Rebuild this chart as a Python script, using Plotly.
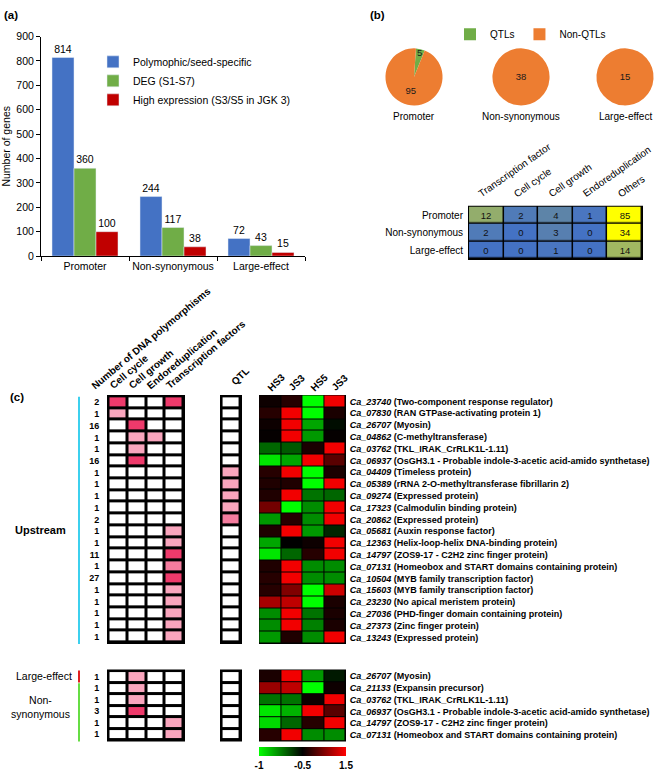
import plotly.graph_objects as go

W, H = 660, 777
FONT = "Liberation Sans, Arial, sans-serif"


def px(x):
    return x / W


def py(y):
    return 1 - y / H


# ---------------- (a) data ----------------
categories = ["Promoter", "Non-synonymous", "Large-effect"]
polymorphic = [814, 244, 72]
deg = [360, 117, 43]
high_expr = [100, 38, 15]
series_names = ["Polymophic/seed-specific", "DEG (S1-S7)", "High expression (S3/S5 in JGK 3)"]
bar_colors = ["#4472c4", "#70ad47", "#c00000"]

# ---------------- (b) data ----------------
pie_groups = ["Promoter", "Non-synonymous", "Large-effect"]
pie_labels = ["QTLs", "Non-QTLs"]
qtl_counts = [5, 0, 0]
nonqtl_counts = [95, 38, 15]

table_rows = ["Promoter", "Non-synonymous", "Large-effect"]
table_cols = ["Transcription factor", "Cell cycle", "Cell growth", "Endoreduplication", "Others"]
tf_counts = [12, 2, 0]
cellcycle_counts = [2, 0, 0]
cellgrowth_counts = [4, 3, 1]
endo_counts = [1, 0, 0]
others_counts = [85, 34, 14]

# ---------------- (c) data ----------------
mat_cols = ["Cell cycle", "Cell growth", "Endoreduplication", "Transcription factors"]
expr_cols = ["HS3", "JS3", "HS5", "JS3"]

up_ids = ["Ca_23740", "Ca_07830", "Ca_26707", "Ca_04862", "Ca_03762", "Ca_06937", "Ca_04409",
          "Ca_05389", "Ca_09274", "Ca_17323", "Ca_20862", "Ca_05681", "Ca_12363", "Ca_14797",
          "Ca_07131", "Ca_10504", "Ca_15603", "Ca_23230", "Ca_27036", "Ca_27373", "Ca_13243"]
up_desc = ["Two-component response regulator", "RAN GTPase-activating protein 1", "Myosin",
           "C-methyltransferase", "TKL_IRAK_CrRLK1L-1.11",
           "OsGH3.1 - Probable indole-3-acetic acid-amido synthetase", "Timeless protein",
           "rRNA 2-O-methyltransferase fibrillarin 2", "Expressed protein",
           "Calmodulin binding protein", "Expressed protein", "Auxin response factor",
           "Helix-loop-helix DNA-binding protein", "ZOS9-17 - C2H2 zinc finger protein",
           "Homeobox and START domains containing protein", "MYB family transcription factor",
           "MYB family transcription factor", "No apical meristem protein",
           "PHD-finger domain containing protein", "Zinc finger protein", "Expressed protein"]
up_polymorphisms = [2, 1, 16, 1, 1, 16, 1, 1, 1, 1, 2, 1, 1, 11, 1, 27, 1, 1, 1, 1, 1]
# pink intensity level per category (0 none, 1 light, 2 medium, 3 strong)
up_cell_cycle = [3, 1, 0, 0, 0, 0, 0, 0, 0, 0, 0, 0, 0, 0, 0, 0, 0, 0, 0, 0, 0]
up_cell_growth = [0, 0, 3, 1, 1, 3, 0, 0, 0, 0, 0, 0, 0, 0, 0, 0, 0, 0, 0, 0, 0]
up_endored = [0, 0, 0, 1, 0, 0, 0, 0, 0, 0, 0, 0, 0, 0, 0, 0, 0, 0, 0, 0, 0]
up_tf = [3, 0, 0, 0, 0, 0, 0, 0, 0, 0, 0, 1, 1, 3, 2, 3, 1, 1, 1, 1, 1]
up_qtl = [0, 0, 0, 0, 0, 0, 1, 1, 1, 1, 2, 0, 0, 0, 0, 0, 0, 0, 0, 0, 0]
# scaled expression (green -1 .. black 0 .. red 1): HS3, JS3, HS5, JS3
up_hs3 = [0.05, 0.15, 0.05, 0.02, -0.4, -0.9, 0.15, 0.12, 0.12, 0.45, -0.6,
          0.12, -0.65, -0.9, 0.12, 0.15, 0.15, 0.65, -0.55, -0.55, -0.6]
up_js3a = [0.15, 0.95, 0.95, 0.95, -0.35, -0.65, 0.95, 0.12, 0.95, -1.0, 0.15,
           0.95, 0.0, -0.4, 0.95, 0.95, 0.5, 0.75, 0.95, 0.95, 0.12]
up_hs5 = [-1.0, -1.0, -0.65, -0.6, 0.1, 0.95, -1.0, -1.0, -0.45, -0.55, -0.55,
          -0.6, 0.05, 0.15, -0.55, -0.55, -1.0, -1.0, -0.45, -0.5, -0.55]
up_js3b = [0.95, 0.1, -0.05, 0.02, 0.95, 0.35, 0.1, 0.95, -0.4, 0.95, 0.95,
           -0.15, 0.95, 0.95, -0.55, -0.55, 0.8, 0.1, 0.1, 0.1, 0.95]

low_ids = ["Ca_26707", "Ca_21133", "Ca_03762", "Ca_06937", "Ca_14797", "Ca_07131"]
low_desc = ["Myosin", "Expansin precursor", "TKL_IRAK_CrRLK1L-1.11",
            "OsGH3.1 - Probable indole-3-acetic acid-amido synthetase",
            "ZOS9-17 - C2H2 zinc finger protein", "Homeobox and START domains containing protein"]
low_polymorphisms = [1, 1, 1, 3, 1, 1]
low_cell_cycle = [0, 0, 0, 0, 0, 0]
low_cell_growth = [1, 1, 1, 3, 0, 0]
low_endored = [0, 0, 0, 0, 0, 0]
low_tf = [0, 0, 0, 0, 1, 1]
low_qtl = [0, 0, 0, 0, 0, 0]
low_hs3 = [0.1, 0.6, -0.45, -0.9, -0.85, 0.15]
low_js3a = [0.95, 0.75, -0.45, -0.7, -0.4, 0.95]
low_hs5 = [-0.6, -1.0, 0.05, 0.95, 0.15, -0.55]
low_js3b = [-0.1, 0.05, 0.95, 0.35, 0.95, -0.55]

cbar_ticks = ["-1", "-0.5", "1.5"]

# ---------------- figure ----------------
fig = go.Figure()

# (a) bars
for name, vals, col in zip(series_names, [polymorphic, deg, high_expr], bar_colors):
    fig.add_trace(go.Bar(x=categories, y=vals, name=name, marker_color=col,
                         text=vals, textposition="outside", cliponaxis=False,
                         textfont=dict(size=10.5, color="black"),
                         xaxis="x", yaxis="y", legend="legend"))

# (b) pies
pie_centers = [414, 521, 625]
for i, g in enumerate(pie_groups):
    vals = [qtl_counts[i], nonqtl_counts[i]]
    cx = pie_centers[i]
    fig.add_trace(go.Pie(labels=pie_labels, values=vals, sort=False,
                         direction="counterclockwise", rotation=4,
                         marker=dict(colors=["#70ad47", "#ed7d31"]),
                         text=[str(v) if v else "" for v in vals], textinfo="text",
                         textposition="inside", insidetextorientation="horizontal",
                         textfont=dict(size=9.5, color="#1a1a1a"),
                         domain=dict(x=[px(cx - 29), px(cx + 29)], y=[py(101), py(43)]),
                         showlegend=(i == 0), legend="legend2", hoverinfo="skip"))

# (b) table heatmap
table_z = [[tf_counts[r], cellcycle_counts[r], cellgrowth_counts[r], endo_counts[r], others_counts[r]]
           for r in range(len(table_rows))]
table_scale = [[0, "#4472c4"], [1 / 85, "#4a76c0"], [4 / 85, "#5d84a8"], [12 / 85, "#93ad6c"],
               [20 / 85, "#c9d83e"], [30 / 85, "#ffff00"], [1, "#ffff00"]]
fig.add_trace(go.Heatmap(z=table_z, x=list(range(len(table_cols))), y=list(range(len(table_rows))),
                         text=table_z, texttemplate="%{text}",
                         textfont=dict(size=9.5, color="#111111"),
                         colorscale=table_scale, zmin=0, zmax=85, showscale=False,
                         xgap=1.5, ygap=1.5, xaxis="x2", yaxis="y2", hoverinfo="skip"))

pink_scale = [[0, "#ffffff"], [0.333, "#f9a5bd"], [0.667, "#f47c9e"], [1, "#ee3a6b"]]
expr_scale = [[0, "#00ff00"], [0.5, "#000000"], [1, "#ff0000"]]


def add_block(ax_m, ax_q, ax_e, cc, cg, en, tf, qtl, e1, e2, e3, e4, show_cb):
    n = len(cc)
    zm = [[cc[r], cg[r], en[r], tf[r]] for r in range(n)]
    fig.add_trace(go.Heatmap(z=zm, x=list(range(4)), y=list(range(n)), colorscale=pink_scale,
                             zmin=0, zmax=3, showscale=False, xgap=3, ygap=3,
                             xaxis="x" + ax_m, yaxis="y" + ax_m, hoverinfo="skip"))
    zq = [[qtl[r]] for r in range(n)]
    fig.add_trace(go.Heatmap(z=zq, x=[0], y=list(range(n)), colorscale=pink_scale,
                             zmin=0, zmax=3, showscale=False, xgap=3, ygap=3,
                             xaxis="x" + ax_q, yaxis="y" + ax_q, hoverinfo="skip"))
    ze = [[e1[r], e2[r], e3[r], e4[r]] for r in range(n)]
    cb = None
    if show_cb:
        cb = dict(orientation="h", x=px(302.5), xanchor="center", y=py(753), yanchor="top",
                  len=87, lenmode="pixels", thickness=9, thicknessmode="pixels",
                  tickvals=[-1, 0, 1], ticktext=cbar_ticks, ticks="",
                  tickfont=dict(size=10, weight="bold"), outlinewidth=0, xpad=0, ypad=0)
    fig.add_trace(go.Heatmap(z=ze, x=list(range(4)), y=list(range(n)), colorscale=expr_scale,
                             zmin=-1, zmax=1, showscale=show_cb, colorbar=cb, xgap=1, ygap=1,
                             xaxis="x" + ax_e, yaxis="y" + ax_e, hoverinfo="skip"))


add_block("3", "4", "5", up_cell_cycle, up_cell_growth, up_endored, up_tf, up_qtl,
          up_hs3, up_js3a, up_hs5, up_js3b, False)
add_block("6", "7", "8", low_cell_cycle, low_cell_growth, low_endored, low_tf, low_qtl,
          low_hs3, low_js3a, low_hs5, low_js3b, True)


def hid(**kw):
    d = dict(showgrid=False, zeroline=False, showticklabels=False, ticks="", showline=False,
             fixedrange=True)
    d.update(kw)
    return d


n_up, n_low = len(up_ids), len(low_ids)
up_y = [py(648), py(395)]
low_y = [py(747), py(674)]
gene_up = ["<i>%s</i> (%s)" % (a, b) for a, b in zip(up_ids, up_desc)]
gene_low = ["<i>%s</i> (%s)" % (a, b) for a, b in zip(low_ids, low_desc)]
gene_font = dict(size=9.0, weight="bold", color="black")
cnt_font = dict(size=9, weight="bold", color="black")

layout = dict(
    width=W, height=H, margin=dict(l=0, r=0, t=0, b=0),
    paper_bgcolor="white", plot_bgcolor="white",
    font=dict(family=FONT, color="black", size=10),
    bargap=0.25, bargroupgap=0,
    uniformtext=dict(minsize=9.5, mode="show"),
    xaxis=dict(domain=[px(41), px(305)], showline=True, linecolor="black", linewidth=1,
               ticks="outside", tickson="boundaries", ticklen=4, tickcolor="black",
               tickangle=0, tickfont=dict(size=10.5), showgrid=False, fixedrange=True),
    yaxis=dict(domain=[py(254), py(31)], range=[0, 900], dtick=100, showline=True,
               linecolor="black", linewidth=1, ticks="outside", ticklen=4, tickcolor="black",
               tickfont=dict(size=10.5), showgrid=False, zeroline=False, fixedrange=True,
               title=dict(text="Number of genes", font=dict(size=10.5), standoff=4)),
    legend=dict(x=px(93), y=py(42), xanchor="left", yanchor="top", font=dict(size=10.5),
                bgcolor="rgba(0,0,0,0)", tracegroupgap=0),
    legend2=dict(orientation="h", x=px(450), y=py(14), xanchor="left", yanchor="top",
                 font=dict(size=10), bgcolor="rgba(0,0,0,0)"),
    xaxis2=hid(domain=[px(468), px(643)], range=[-0.53, 4.53]),
    yaxis2=hid(domain=[py(258), py(203)], range=[2.55, -0.55], showticklabels=True,
               tickvals=list(range(3)), ticktext=table_rows, tickfont=dict(size=10),
               ticks="outside", ticklen=2, tickcolor="rgba(0,0,0,0)"),
    xaxis3=hid(domain=[px(107), px(185)], range=[-0.58, 3.58]),
    yaxis3=hid(domain=up_y, range=[n_up - 0.5 + 0.125, -0.5 - 0.125], showticklabels=True,
               tickvals=list(range(n_up)), ticktext=[str(v) for v in up_polymorphisms],
               tickfont=cnt_font, ticks="outside", ticklen=5, tickcolor="rgba(0,0,0,0)"),
    xaxis4=hid(domain=[px(220), px(242)], range=[-0.58, 0.58]),
    yaxis4=hid(domain=up_y, range=[n_up - 0.5 + 0.125, -0.5 - 0.125]),
    xaxis5=hid(domain=[px(259), px(346)], range=[-0.52, 3.52]),
    yaxis5=hid(domain=up_y, range=[n_up - 0.5 + 0.05, -0.5 - 0.05], side="right",
               showticklabels=True, tickvals=list(range(n_up)), ticktext=gene_up,
               tickfont=gene_font, ticks="outside", ticklen=1, tickcolor="rgba(0,0,0,0)"),
    xaxis6=hid(domain=[px(107), px(185)], range=[-0.58, 3.58]),
    yaxis6=hid(domain=low_y, range=[n_low - 0.5 + 0.125, -0.5 - 0.125], showticklabels=True,
               tickvals=list(range(n_low)), ticktext=[str(v) for v in low_polymorphisms],
               tickfont=cnt_font, ticks="outside", ticklen=5, tickcolor="rgba(0,0,0,0)"),
    xaxis7=hid(domain=[px(220), px(242)], range=[-0.58, 0.58]),
    yaxis7=hid(domain=low_y, range=[n_low - 0.5 + 0.125, -0.5 - 0.125]),
    xaxis8=hid(domain=[px(259), px(346)], range=[-0.52, 3.52]),
    yaxis8=hid(domain=low_y, range=[n_low - 0.5 + 0.05, -0.5 - 0.05], side="right",
               showticklabels=True, tickvals=list(range(n_low)), ticktext=gene_low,
               tickfont=gene_font, ticks="outside", ticklen=1, tickcolor="rgba(0,0,0,0)"),
)
for k in ["2", "3", "4", "5", "6", "7", "8"]:
    layout["xaxis" + k]["anchor"] = "y" + k
    layout["yaxis" + k]["anchor"] = "x" + k
fig.update_layout(**layout)

shapes = []
for k in ["2", "3", "4", "5", "6", "7", "8"]:
    shapes.append(dict(type="rect", xref="x%s domain" % k, yref="y%s domain" % k,
                       x0=0, x1=1, y0=0, y1=1, fillcolor="black", line=dict(width=0),
                       layer="below"))
shapes.append(dict(type="line", xref="paper", yref="paper", x0=px(79), x1=px(79),
                   y0=py(397), y1=py(648), line=dict(color="#3cd0ee", width=2)))
shapes.append(dict(type="line", xref="paper", yref="paper", x0=px(79), x1=px(79),
                   y0=py(675), y1=py(687), line=dict(color="#e02020", width=2)))
shapes.append(dict(type="line", xref="paper", yref="paper", x0=px(79), x1=px(79),
                   y0=py(688), y1=py(747), line=dict(color="#66dd44", width=2)))
fig.update_layout(shapes=shapes)

ann = []


def txt(text, x, y, size=10, bold=False, xanchor="center", yanchor="middle", xref="paper",
        angle=0, xshift=0):
    ann.append(dict(text=text, x=x, y=y, xref=xref, yref="paper", showarrow=False,
                    xanchor=xanchor, yanchor=yanchor, textangle=angle, xshift=xshift,
                    font=dict(size=size, weight="bold" if bold else "normal", color="black")))


txt("(a)", px(2), py(9), size=11.5, bold=True, xanchor="left")
txt("(b)", px(368), py(9), size=11.5, bold=True, xanchor="left")
txt("(c)", px(8), py(397), size=11.5, bold=True, xanchor="left")

for i, g in enumerate(pie_groups):
    txt(g, px(pie_centers[i]), py(112), size=10)

for j, name in enumerate(table_cols):
    txt(name, j, py(199), size=10, xanchor="left", yanchor="bottom", xref="x2", angle=-35,
        xshift=-12)

txt("Number of DNA polymorphisms", px(86), py(394), size=10, bold=True, xanchor="left",
    yanchor="bottom", angle=-40)
for j, name in enumerate(mat_cols):
    txt(name, j, py(394), size=10, bold=True, xanchor="left", yanchor="bottom", xref="x3",
        angle=-40, xshift=-13)
txt("QTL", 0, py(390), size=10, bold=True, xanchor="left", yanchor="bottom", xref="x4",
    angle=-45, xshift=-5)
for j, name in enumerate(expr_cols):
    txt(name, j, py(396), size=10, bold=True, xanchor="left", yanchor="bottom", xref="x5",
        angle=-45, xshift=-8)

txt("Upstream", px(40), py(532), size=11, bold=True)
txt("Large-effect", px(74), py(681), size=10.5, xanchor="right")
txt("Non-<br>synonymous", px(40), py(712), size=10.5)

fig.update_layout(annotations=ann)

fig.write_html("out.html", config={"displayModeBar": False},
               post_script="document.body.style.margin='0px';")
